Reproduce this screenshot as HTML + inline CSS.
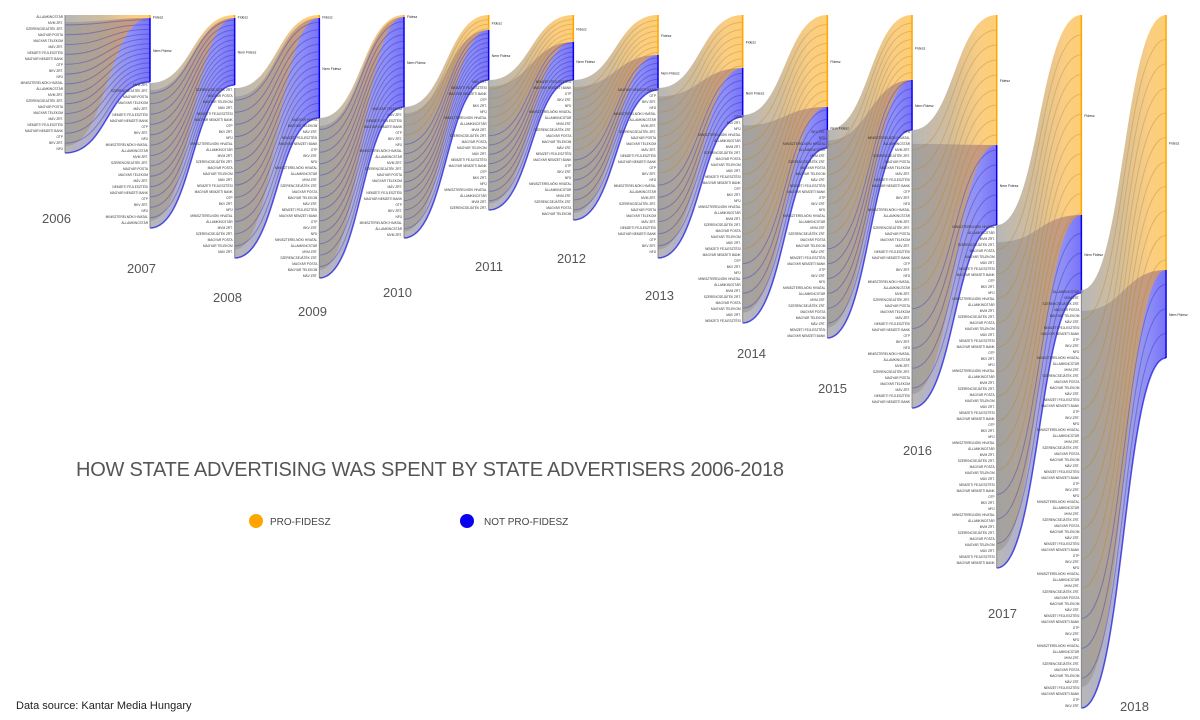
<!DOCTYPE html>
<html><head><meta charset="utf-8"><style>
body{margin:0;background:#fff;}
svg{display:block;font-family:"Liberation Sans",sans-serif;}
</style></head><body>
<svg id="chart" width="1200" height="720">
<defs id="defs"></defs>
<g id="flows"></g>
<g id="nodes"></g>
<g id="labels"></g>
<text x="76" y="476" font-size="20" fill="#555" textLength="708" lengthAdjust="spacing">HOW STATE ADVERTISING WAS SPENT BY STATE ADVERTISERS 2006-2018</text>
<g>
<circle cx="256" cy="521" r="7" fill="#ffa500"/>
<text x="270" y="525" font-size="10" fill="#444">PRO-FIDESZ</text>
<circle cx="467" cy="521" r="7" fill="#0a00f0"/>
<text x="484" y="525" font-size="10" fill="#444">NOT PRO-FIDESZ</text>
</g>
<text x="16" y="709" font-size="11" fill="#222">Data source: Kantar Media Hungary</text>
</svg>
<script>
const years=["2006","2007","2008","2009","2010","2011","2012","2013","2014","2015","2016","2017","2018"];
const proFidesz=[3,3,3,2,15,27,40,53,92,65,130,200,255];
const notProFidesz=[64,67,100,90,50,38,35,49,41,50,80,78,88];
const sourceTop=[15,83,88,118,107,80,80,88,115,130,130,225,290];
const sourceBottom=[153,228,258,278,238,210,220,258,323,338,408,568,708];
const advertiserNames=["ÁLLAMKINCSTÁR","MVM ZRT.","SZERENCSEJÁTÉK ZRT.","MAGYAR POSTA","MAGYAR TELEKOM","MÁV ZRT.","NEMZETI FEJLESZTÉSI","MAGYAR NEMZETI BANK","OTP","BKV ZRT.","NFÜ","MINISZTERELNÖKI HIVATAL"];
const svg=document.getElementById('chart'),NS='http://www.w3.org/2000/svg';
const defs=document.getElementById('defs'),gF=document.getElementById('flows'),gN=document.getElementById('nodes'),gL=document.getElementById('labels');
function xTarget(i){return 150+i*84.67;}
function xSource(i){return i===0?65:xTarget(i-1);}
function yScale(v){return v*1;}
function mk(t,a,p){const e=document.createElementNS(NS,t);for(const k in a)e.setAttribute(k,a[k]);(p||svg).appendChild(e);return e;}
function ribbon(xs,s0,s1,xt,t0,t1){const m=(xs+xt)/2;return `M${xs},${s0}C${m},${s0} ${m},${t0} ${xt},${t0}L${xt},${t1}C${m},${t1} ${m},${s1} ${xs},${s1}Z`;}
years.forEach((yr,i)=>{
  const xs=xSource(i),xt=xTarget(i),top=15;
  const oH=yScale(proFidesz[i]),bH=yScale(notProFidesz[i]);
  const s0=sourceTop[i],s1=sourceBottom[i];
  ['o','b'].forEach(c=>{
    const g=mk('linearGradient',{id:'g'+c+i,x1:'0',x2:'1',y1:'0',y2:'0'},defs);
    mk('stop',{offset:'0','stop-color':'#999','stop-opacity':'0.7'},g);
    mk('stop',{offset:'0.45','stop-color':c==='o'?'#b89a6a':'#8080c0','stop-opacity':'0.65'},g);
    mk('stop',{offset:'0.8','stop-color':c==='o'?'#f5a520':'#3030f0','stop-opacity':'0.55'},g);
    mk('stop',{offset:'1','stop-color':c==='o'?'#ffa500':'#0a00f0','stop-opacity':'0.55'},g);
  });
  const tot=oH+bH, span=s1-s0;
  const pb=mk('path',{d:ribbon(xs,s0+span*0.05,s1,xt,top+oH,top+oH+bH),fill:'url(#gb'+i+')'},gF);
  
  
  const po=mk('path',{d:ribbon(xs,s0,s1-span*0.05,xt,top,top+oH),fill:'url(#go'+i+')'},gF);
  
  
  for(let k=1;k<14;k++){
    const f=k/14, sy=s0+span*f, ty=top+tot*f;
    const m=(xs+xt)/2;
    const ln=mk('path',{d:`M${xs},${sy}C${m},${sy} ${m},${ty} ${xt},${ty}`,fill:'none',stroke:ty<top+oH?'#c08010':'#2020c0','stroke-opacity':'0.35','stroke-width':'1'},gF);
    
    
  }
  const m=(xs+xt)/2;
  const be=mk('path',{d:`M${xs},${s1}C${m},${s1} ${m},${top+tot} ${xt},${top+tot}`,fill:'none',stroke:'#1010e0','stroke-opacity':'0.7','stroke-width':'1.5'},gF);
  
  
  const sl=mk('line',{x1:xs,y1:s0,x2:xs,y2:s1,stroke:'#888','stroke-width':'1'},gN);
  
  
  const no=mk('line',{x1:xt,y1:top,x2:xt,y2:top+oH,stroke:'#ffa500','stroke-width':'1.5'},gN);
  
  
  const nb=mk('line',{x1:xt,y1:top+oH,x2:xt,y2:top+oH+bH,stroke:'#0a00f0','stroke-width':'1.5'},gN);
  
  
  const t1=mk('text',{x:xt+3,y:top+oH/2+2,'font-size':'3.5',fill:'#222'},gL);t1.textContent='Fidesz';
  
  
  const t2=mk('text',{x:xt+3,y:top+oH+bH/2+2,'font-size':'3.5',fill:'#222'},gL);t2.textContent='Nem Fidesz';
  
  
  for(let y=s0+3,k=0;y<s1;y+=6,k++){
    const a=mk('text',{x:xs-2,y:y,'font-size':'3.2',fill:'#333','text-anchor':'end'},gL);
    a.textContent=advertiserNames[(k+i)%advertiserNames.length];
    
    
  }
});
const yearPos=[[42,223],[127,273],[213,302],[298,316],[383,297],[475,271],[557,263],[645,300],[737,358],[818,393],[903,455],[988,618],[1120,711]];
years.forEach((yr,i)=>{
  const t=mk('text',{x:yearPos[i][0],y:yearPos[i][1],'font-size':'13',fill:'#555'},gL);
  t.textContent=yr;
  
  
});
</script>
</body></html>
